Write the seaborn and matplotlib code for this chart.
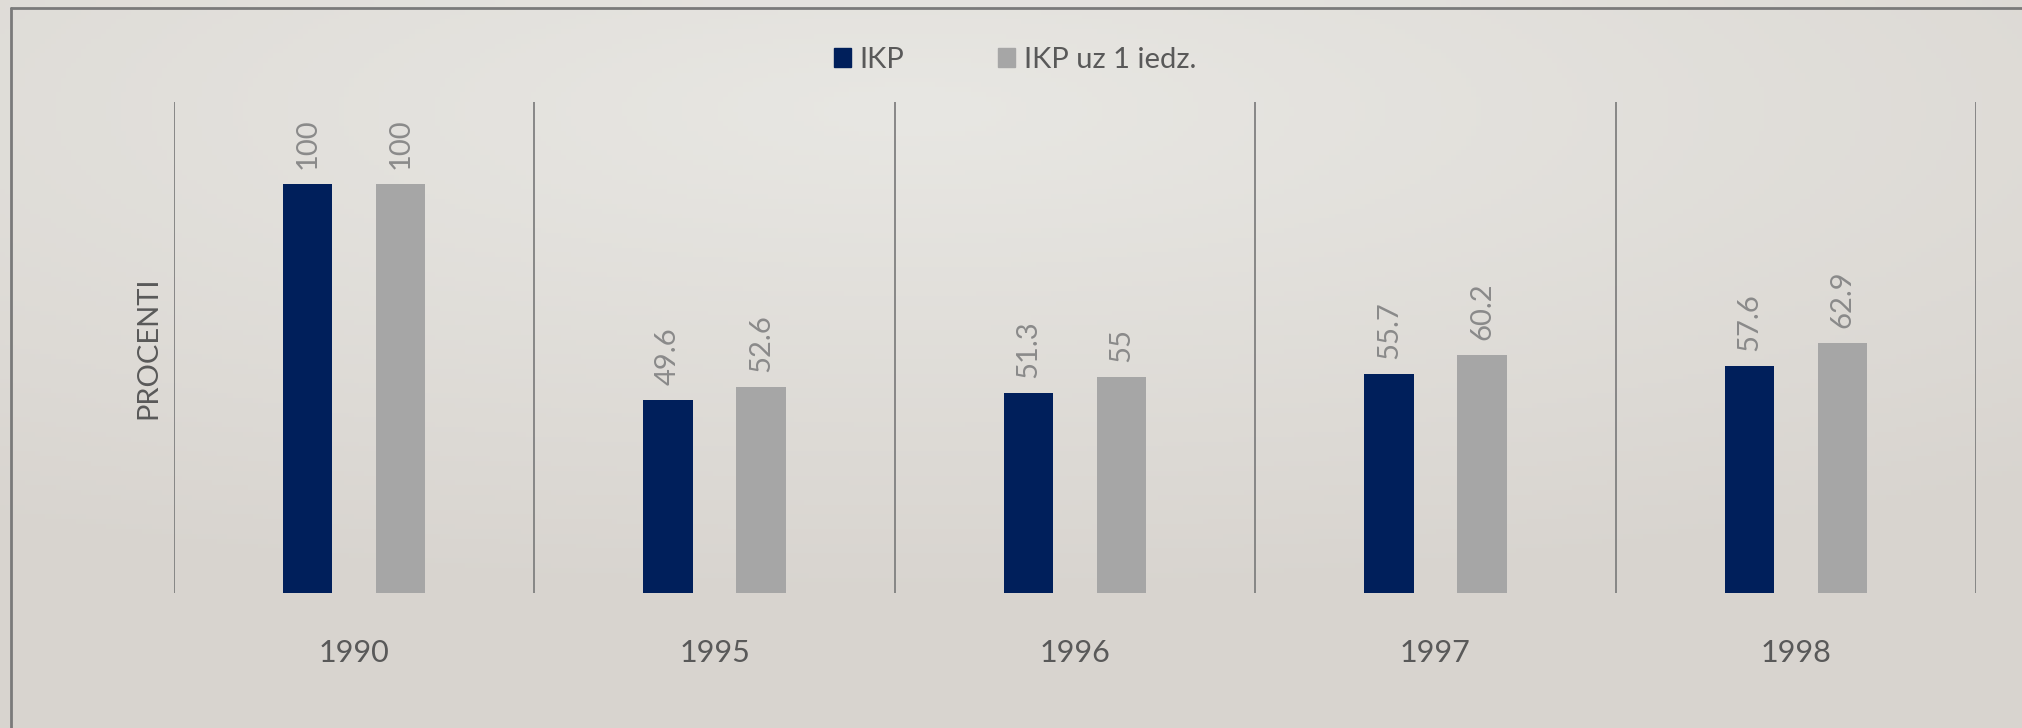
import numpy as np
import pandas as pd
import matplotlib
matplotlib.use('Agg')
import matplotlib.pyplot as plt
import seaborn as sns
from matplotlib.lines import Line2D

# Chart data
years = ['1990', '1995', '1996', '1997', '1998']
series_names = ['IKP', 'IKP uz 1 iedz.']
ikp = [100, 49.6, 51.3, 55.7, 57.6]
ikp_per_capita = [100, 52.6, 55, 60.2, 62.9]
colors = ['#001f5b', '#a6a6a6']

df = pd.DataFrame({
    'Gads': years * 2,
    'Rādītājs': [series_names[0]] * len(years) + [series_names[1]] * len(years),
    'Vērtība': ikp + ikp_per_capita,
})

sns.set_theme(style='white')
plt.rcParams['font.family'] = ['Lato', 'DejaVu Sans']

fig = plt.figure(figsize=(20.22, 7.28), dpi=100)

# soft background gradient
bg = fig.add_axes([0, 0, 1, 1], zorder=-10)
gx, gy = np.meshgrid(np.linspace(0, 1, 400), np.linspace(0, 1, 150))
dist = np.sqrt(((gx - 0.45) * 1.0) ** 2 + ((gy - 0.15) * 1.3) ** 2)
shade = np.clip(dist / 0.85, 0, 1)
light = np.array([0.910, 0.906, 0.890])
dark = np.array([0.850, 0.835, 0.815])
img = light[None, None, :] * (1 - shade[..., None]) + dark[None, None, :] * shade[..., None]
bg.imshow(img, aspect='auto', extent=[0, 1, 0, 1], origin='upper')
bg.set_axis_off()

# frame lines on left and top
fig.add_artist(Line2D([10.5 / 2022, 10.5 / 2022], [0, 1 - 8 / 728], color='#7a7a7a', lw=2))
fig.add_artist(Line2D([10.5 / 2022, 1], [1 - 8 / 728, 1 - 8 / 728], color='#7a7a7a', lw=2))

ax = fig.add_axes([174 / 2022, 1 - 593 / 728, (1976 - 174) / 2022, (593 - 102) / 728])
ax.patch.set_alpha(0)

sns.barplot(data=df, x='Gads', y='Vērtība', hue='Rādītājs', palette=colors,
            width=0.516, gap=0.47, ax=ax, legend=False, saturation=1, linewidth=0)

ax.set_ylim(4.6, 119.2)
ax.set_xlim(-0.5, len(years) - 0.5)

for c in ax.containers:
    ax.bar_label(c, fmt='%g', rotation=90, padding=11, fontsize=21, color='#8a8a8a')

for xpos in np.arange(-0.5, len(years), 1.0):
    ax.axvline(xpos, color='#808080', lw=1.3, zorder=0)

for s in ax.spines.values():
    s.set_visible(False)

ax.set_yticks([])
ax.set_xlabel('')
ax.set_ylabel('PROCENTI', fontsize=21, color='#595959', labelpad=9)
ax.tick_params(axis='x', length=0, pad=33, labelsize=22, labelcolor='#595959')

handles = [plt.Rectangle((0, 0), 1, 1, color=col) for col in colors]
fig.legend(handles, series_names, loc='center', bbox_to_anchor=(0.502, 1 - 60 / 728),
           ncol=2, frameon=False, fontsize=21, labelcolor='#595959',
           handlelength=0.6, handleheight=0.6, handletextpad=0.3, columnspacing=3.2)

fig.savefig('out.png', dpi=100)
